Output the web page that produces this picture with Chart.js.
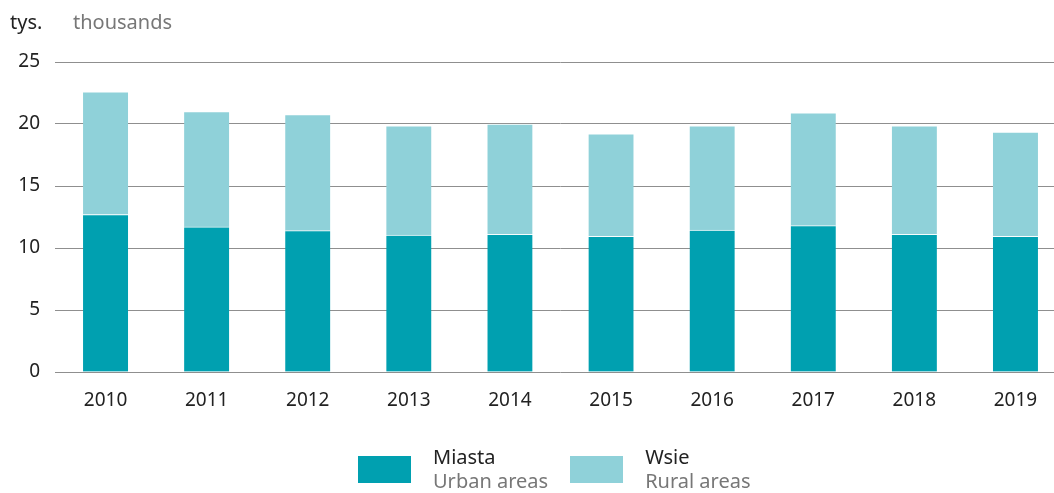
<!DOCTYPE html>
<html>
<head>
<meta charset="utf-8">
<script src="https://cdn.jsdelivr.net/npm/chart.js@4/dist/chart.umd.min.js"></script>
<style>
  html, body { margin: 0; padding: 0; background: #fff; overflow: hidden; }
  .wrap { position: relative; width: 1054px; height: 493px; overflow: hidden; font-family: "Noto Sans", "Open Sans", sans-serif; }
  canvas { position: absolute; left: 0; top: 0; }
  .unit { position: absolute; top: 8px; font-size: 20px; }
  .unit-pl { left: 10px; color: #222; }
  .unit-en { left: 73px; color: #777; }
  .legend { position: absolute; top: 445px; left: 358px; display: flex; }
  .legend-item { display: flex; margin-right: 22px; }
  .legend-box { width: 53px; height: 27px; margin-top: 11px; margin-right: 22px; }
  .legend-text { font-size: 20px; line-height: 24px; }
  .legend-text .pl { color: #222; }
  .legend-text .en { color: #777; }
</style>
</head>
<body>
<div class="wrap">
  <canvas id="chart" width="1070" height="493"></canvas>
  <div class="unit unit-pl">tys.</div>
  <div class="unit unit-en">thousands</div>
  <div class="legend" id="legend"></div>
</div>
<script>
/* ── Data ──────────────────────────── */
const YEARS = ["2010", "2011", "2012", "2013", "2014", "2015", "2016", "2017", "2018", "2019"];
const URBAN = [12.7, 11.7, 11.4, 11.05, 11.1, 10.95, 11.45, 11.8, 11.1, 10.95];
const RURAL = [9.9, 9.3, 9.35, 8.8, 8.9, 8.25, 8.4, 9.1, 8.75, 8.4];
const SERIES_PL = ["Miasta", "Wsie"];
const SERIES_EN = ["Urban areas", "Rural areas"];
const COLORS = ["#00a0b0", "#8fd1d9"];

Chart.defaults.font.family = "'Noto Sans', 'Open Sans', sans-serif";
Chart.defaults.color = "#222";

const bar = (label, data, color) => ({
  label,
  data,
  backgroundColor: color,
  borderColor: "rgba(255,255,255,0.6)",
  borderWidth: { top: 1, left: 0, right: 0, bottom: 0 },
  borderSkipped: "bottom",
  barThickness: 45,
});

new Chart(document.getElementById("chart"), {
  type: "bar",
  data: {
    labels: YEARS,
    datasets: [bar(SERIES_PL[0], URBAN, COLORS[0]), bar(SERIES_PL[1], RURAL, COLORS[1])],
  },
  options: {
    responsive: false,
    animation: false,
    layout: { padding: { top: 62, right: 4, bottom: 81, left: 0 } },
    plugins: { legend: { display: false }, tooltip: { enabled: false } },
    scales: {
      x: {
        stacked: true,
        grid: { display: false },
        border: { display: false },
        ticks: { font: { size: 19 }, color: "#222", padding: 9 },
        afterFit: (s) => { s.height = 40; },
      },
      y: {
        stacked: true,
        min: 0,
        max: 25,
        ticks: { stepSize: 5, font: { size: 19 }, color: "#222", padding: 15 },
        grid: { color: "#8f8f8f", lineWidth: 1, drawTicks: false },
        border: { display: false },
        afterFit: (s) => { s.width = 55; },
      },
    },
  },
});

document.getElementById("legend").innerHTML = SERIES_PL.map(
  (name, i) => `
  <div class="legend-item">
    <div class="legend-box" style="background:${COLORS[i]}"></div>
    <div class="legend-text"><div class="pl">${name}</div><div class="en">${SERIES_EN[i]}</div></div>
  </div>`,
).join("");
</script>
</body>
</html>
